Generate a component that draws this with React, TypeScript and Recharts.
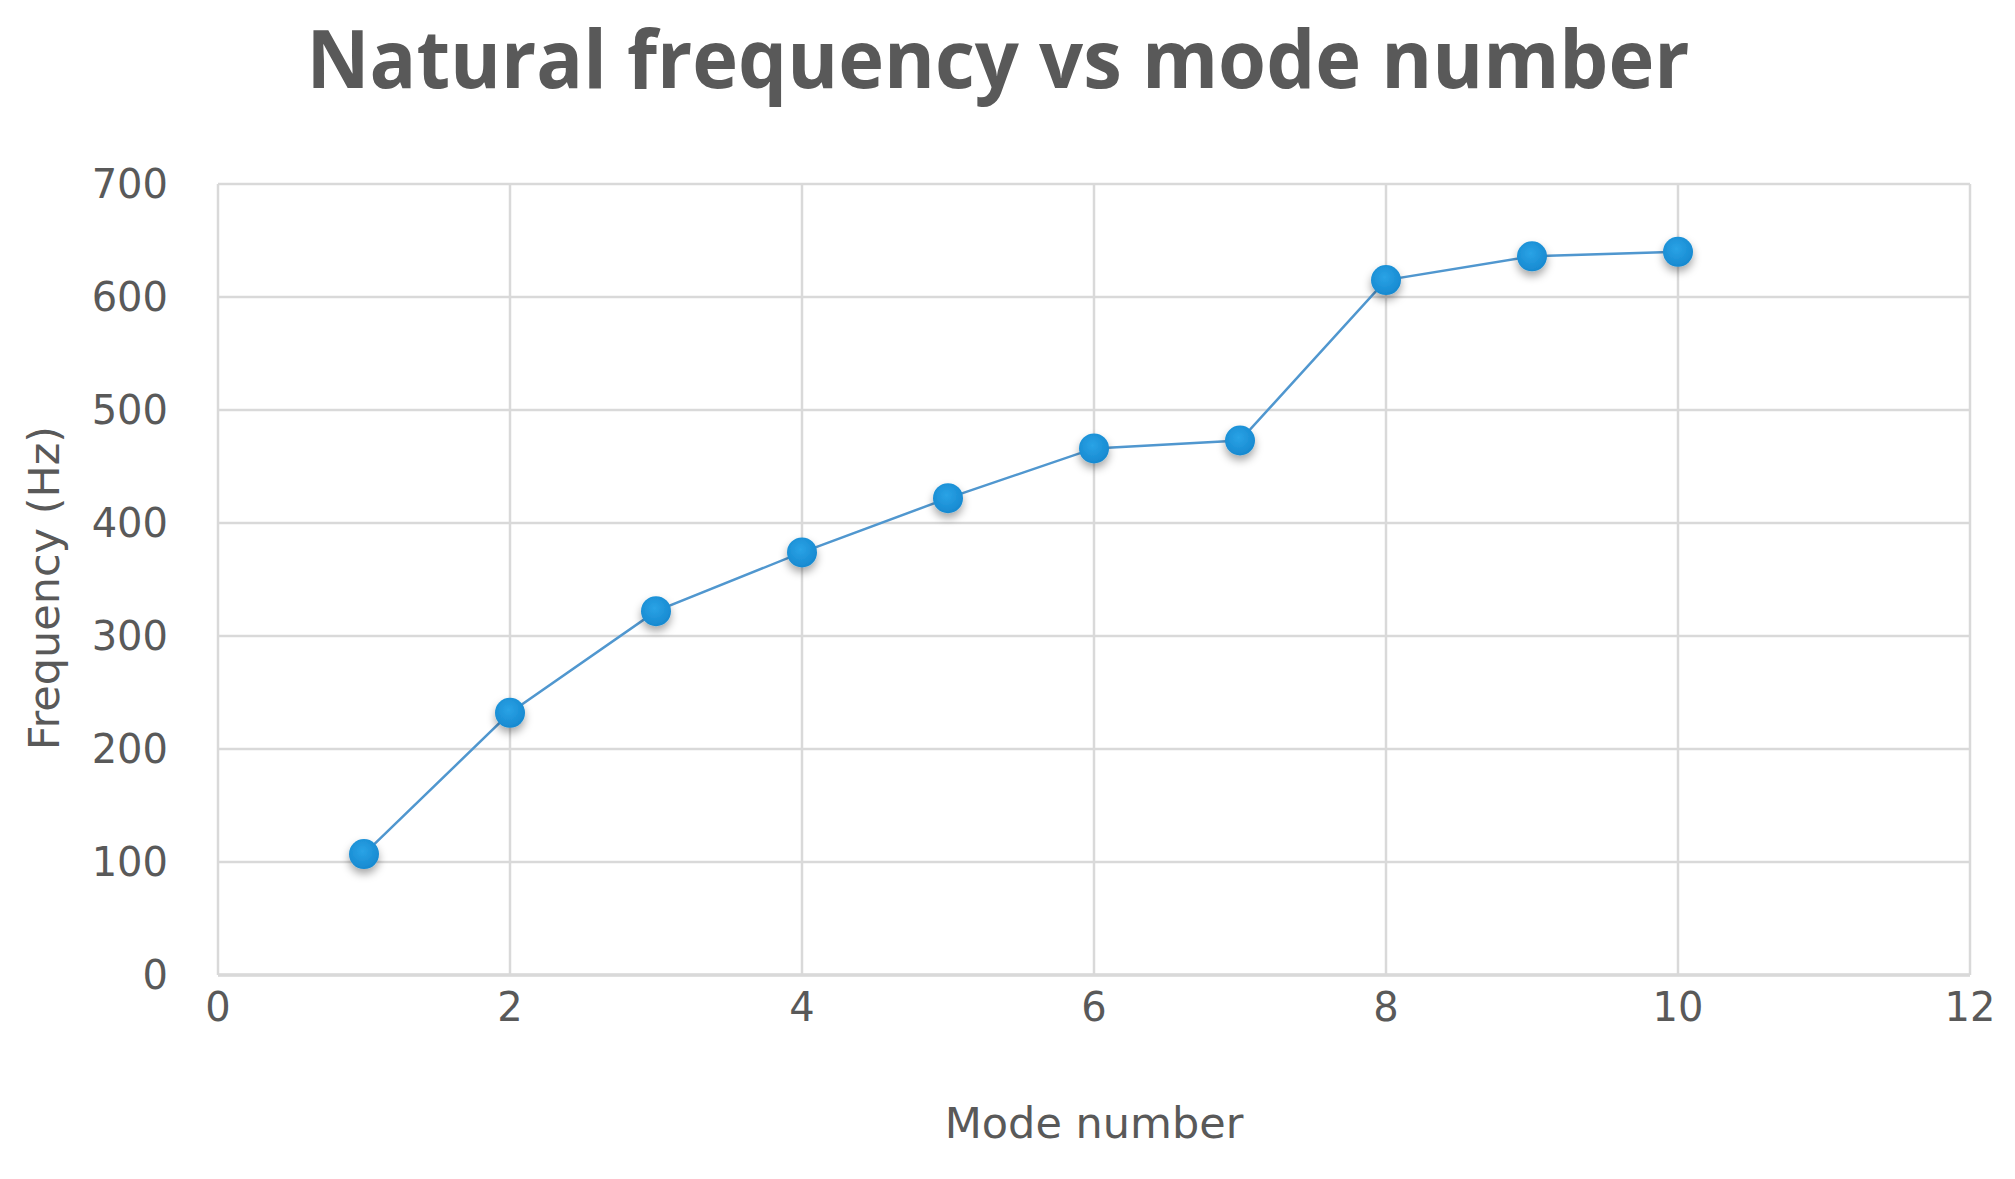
import { CartesianGrid, Line, LineChart, XAxis, YAxis } from "recharts";

const modeNumbers = [1, 2, 3, 4, 5, 6, 7, 8, 9, 10];
const frequencies = [107, 232, 322, 374, 422, 466, 473, 615, 636, 640];
const xTicks = [0, 2, 4, 6, 8, 10, 12];
const yTicks = [0, 100, 200, 300, 400, 500, 600, 700];

const data = modeNumbers.map((mode, i) => ({ mode, freq: frequencies[i] }));

const TEXT = "#595959";
const GRID = "#d9d9d9";

function MarkerDot(props: any) {
  const { cx, cy, index } = props;
  if (cx == null || cy == null) return null;
  return (
    <circle
      key={`dot-${index}`}
      cx={cx}
      cy={cy}
      r={15}
      fill="url(#markerFill)"
      filter="url(#markerShadow)"
    />
  );
}

export default function App() {
  return (
    <div
      style={{
        position: "absolute",
        left: 0,
        top: 0,
        width: 2015,
        height: 1179,
        background: "#fff",
        fontFamily: "'DejaVu Sans', sans-serif",
      }}
    >
      <LineChart
        width={2015}
        height={1179}
        data={data}
        margin={{ top: 184, right: 45, bottom: 0, left: 0 }}
      >
        <CartesianGrid stroke={GRID} strokeWidth={2.5} />
        <XAxis
          type="number"
          dataKey="mode"
          domain={[0, 12]}
          ticks={xTicks}
          height={204}
          tickLine={false}
          tickSize={0}
          tickMargin={18}
          axisLine={{ stroke: GRID, strokeWidth: 3.5 }}
          tick={{ fill: TEXT, fontSize: 40 }}
          label={{
            content: ({ viewBox }: any) => (
              <text
                x={viewBox.x + viewBox.width / 2}
                y={viewBox.y + 163}
                textAnchor="middle"
                fill={TEXT}
                fontSize={43}
              >
                Mode number
              </text>
            ),
          }}
        />
        <YAxis
          type="number"
          domain={[0, 700]}
          ticks={yTicks}
          width={218}
          tickLine={false}
          tickSize={0}
          tickMargin={50}
          axisLine={false}
          tick={{ fill: TEXT, fontSize: 40 }}
          label={{
            content: () => (
              <text
                x={44}
                y={588}
                transform="rotate(-90, 44, 588)"
                textAnchor="middle"
                dominantBaseline="central"
                fill={TEXT}
                fontSize={43}
              >
                Frequency (Hz)
              </text>
            ),
          }}
        />
        <Line
          type="linear"
          dataKey="freq"
          stroke="#5097cf"
          strokeWidth={2.5}
          dot={<MarkerDot />}
          activeDot={false}
          isAnimationActive={false}
        />
      </LineChart>
      <svg
        width={2015}
        height={1179}
        style={{ position: "absolute", left: 0, top: 0, pointerEvents: "none" }}
      >
        <defs>
          <radialGradient id="markerFill" cx="45%" cy="40%" r="60%">
            <stop offset="0%" stopColor="#2aa3e6" />
            <stop offset="100%" stopColor="#1789d0" />
          </radialGradient>
          <filter id="markerShadow" x="-80%" y="-80%" width="260%" height="260%">
            <feDropShadow dx="0" dy="5" stdDeviation="4" floodColor="#000" floodOpacity="0.35" />
          </filter>
        </defs>
        <text
          x={998}
          y={88}
          textAnchor="middle"
          fill={TEXT}
          fontSize={80}
          fontWeight="bold"
          fontFamily="'Open Sans', sans-serif"
          textLength={1383}
          lengthAdjust="spacingAndGlyphs"
        >
          Natural frequency vs mode number
        </text>
      </svg>
    </div>
  );
}
